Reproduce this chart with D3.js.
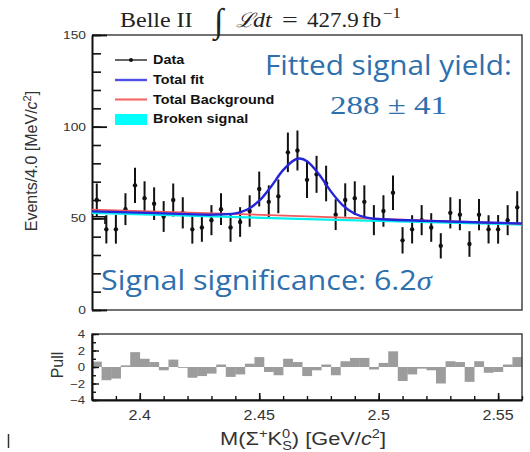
<!DOCTYPE html>
<html><head><meta charset="utf-8">
<script src="https://cdn.jsdelivr.net/npm/d3@7"></script>
<style>body{margin:0;background:#fff} svg{display:block}</style>
</head><body>
<script>
// Binning: 45 bins of 4 MeV/c^2 between 2.38 and 2.56 GeV/c^2
const massMin = 2.38, massMax = 2.56, binWidth = 0.004;

// Events per bin
const counts = [60, 44, 44, 55, 68, 61, 58, 51, 60, 53,
                44, 45, 49, 55, 45, 48, 54, 66, 59, 62,
                86, 87, 71, 74, 69, 52, 60, 61, 59, 49,
                54, 64, 38, 44, 49, 45, 35, 53, 52, 36,
                52, 44, 44, 49, 56];
// Uncertainty on each bin
const countErrors = [9.0, 7.7, 7.8, 8.7, 9.6, 9.2, 8.9, 8.4, 9.0, 8.5,
                     7.8, 7.8, 8.2, 8.7, 7.8, 8.1, 8.6, 9.5, 9.0, 9.2,
                     10.8, 10.9, 9.9, 10.1, 9.7, 8.4, 9.1, 9.2, 9.0, 8.2,
                     8.6, 9.4, 7.2, 7.7, 8.2, 7.8, 6.9, 8.5, 8.5, 7.0,
                     8.5, 7.7, 7.8, 8.2, 8.8];
// Pull of each bin
const pulls = [0.65, -1.6, -1.4, 0.2, 1.8, 1.0, 0.6, -0.4, 0.9, -0.1,
               -1.3, -1.1, -0.8, 0.3, -1.2, -0.9, 0.4, 1.2, -0.6, -1.0,
               1.0, 0.6, -1.1, -0.4, 0.3, -1.0, 0.7, 1.1, 1.1, -0.3,
               0.5, 1.9, -1.7, -0.9, -0.2, -0.4, -2.0, 0.7, 0.6, -1.8,
               0.7, -0.7, -0.6, 0.3, 1.2];

// Fit curves
const fitMass  = [2.38, 2.40, 2.42, 2.43, 2.44, 2.445, 2.45, 2.455, 2.46, 2.465, 2.467,
                  2.47, 2.475, 2.48, 2.485, 2.49, 2.495, 2.50, 2.52, 2.54, 2.56];
const totalFit = [53.8, 53.1, 52.3, 52.0, 52.7, 54.8, 59.6, 67.4, 76.3, 82.0, 82.6,
                  81.1, 74.1, 64.7, 57.1, 52.5, 50.4, 49.6, 48.6, 47.9, 47.2];
const bkgMass = [2.38, 2.47, 2.56];
const totalBackground = [54.8, 51.1, 47.0];
const brokenSignal = [53.0, 49.6, 46.6];

// Axis ticks
const yMajorTicks = [0, 50, 100, 150];
const yMinorTicks = d3.range(0, 151, 10);
const pullMajorTicks = [-4, -2, 0, 2, 4];
const pullMinorTicks = [-4, -3, -2, -1, 0, 1, 2, 3, 4];
const xMajorTicks = [2.4, 2.45, 2.5, 2.55];
const xMinorTicks = d3.range(2.38, 2.5601, 0.01);

const W = 530, H = 452;
const svg = d3.select("body").append("svg").attr("width", W).attr("height", H)
  .style("font-family", "'Liberation Sans', Arial, sans-serif");
svg.append("rect").attr("width", W).attr("height", H).attr("fill", "#fff");

const x = d3.scaleLinear().domain([massMin, massMax]).range([92, 522]);
const y = d3.scaleLinear().domain([0, 150]).range([310, 35]);
const yp = d3.scaleLinear().domain([-4, 4]).range([400, 334]);

const centers = counts.map((_, i) => massMin + binWidth * (i + 0.5));

// text helper: optional horizontal stretch or fit to a given width
function label(parent, str, px, py, o = {}) {
  const g = parent.append("g");
  const t = g.append("text")
    .attr("font-size", o.size || 12)
    .attr("text-anchor", o.anchor || "start")
    .attr("fill", o.color || "#222");
  if (o.family) t.attr("font-family", o.family);
  if (o.weight) t.attr("font-weight", o.weight);
  if (o.style) t.attr("font-style", o.style);
  if (typeof str === "function") str(t); else t.text(str);
  let sx = o.sx || 1;
  if (o.width) sx = o.width / t.node().getComputedTextLength();
  g.attr("transform", `translate(${px},${py}) ${o.rotate ? "rotate(" + o.rotate + ")" : ""} scale(${sx},1)`);
  return t;
}

// ---------- main panel ----------
const main = svg.append("g");

// frame (top, right, bottom)
main.append("path")
  .attr("d", `M${x(massMin)},${y(150)}H${x(massMax)}V${y(0)}H${x(massMin)}`)
  .attr("fill", "none").attr("stroke", "#444").attr("stroke-width", 1.5);

// left axis: minor and major ticks pointing inward
main.append("g").attr("transform", `translate(${x(massMin)},0)`)
  .call(d3.axisLeft(y).tickValues(yMinorTicks).tickSize(-9).tickSizeOuter(0).tickFormat(""))
  .call(g => g.select(".domain").attr("stroke", "#111").attr("stroke-width", 2))
  .call(g => g.selectAll(".tick line").attr("stroke", "#111").attr("stroke-width", 1.6));
const yAx = main.append("g").attr("transform", `translate(${x(massMin)},0)`)
  .call(d3.axisLeft(y).tickValues(yMajorTicks).tickSize(-15).tickSizeOuter(0).tickPadding(6));
yAx.select(".domain").remove();
yAx.selectAll(".tick line").attr("stroke", "#111").attr("stroke-width", 1.8);
yAx.selectAll(".tick text").remove();
yMajorTicks.forEach(v => label(main, String(v), 86, y(v) + 4,
  { size: 11.5, anchor: "end", sx: 1.2, color: "#333" }));

// y title
label(svg, t => {
  t.append("tspan").text("Events/4.0 [MeV/");
  t.append("tspan").attr("font-style", "italic").text("c");
  t.append("tspan").attr("font-size", 11).attr("dy", -6).text("2");
  t.append("tspan").attr("dy", 6).text("]");
}, 37, 161, { size: 16, anchor: "middle", rotate: -90, color: "#333" });

// short stray segment near the first bins
main.append("path").attr("d", "M92,216.7H105V224")
  .attr("fill", "none").attr("stroke", "#111").attr("stroke-width", 1.6);

// data: error bars and markers
const dataG = main.append("g");
dataG.selectAll("line.err").data(counts).join("line")
  .attr("x1", (d, i) => x(centers[i])).attr("x2", (d, i) => x(centers[i]))
  .attr("y1", (d, i) => y(d - countErrors[i])).attr("y2", (d, i) => y(d + countErrors[i]))
  .attr("stroke", "#111").attr("stroke-width", 2);
dataG.selectAll("circle").data(counts).join("circle")
  .attr("cx", (d, i) => x(centers[i])).attr("cy", d => y(d))
  .attr("r", 2.2).attr("fill", "#111");

// fit components
const lineGen = d3.line().x(d => x(d[0])).y(d => y(d[1]));
const curveGen = d3.line().x(d => x(d[0])).y(d => y(d[1])).curve(d3.curveCatmullRom.alpha(0.5));
main.append("path").datum(d3.zip(bkgMass, brokenSignal)).attr("d", lineGen)
  .attr("fill", "none").attr("stroke", "#00f0f0").attr("stroke-width", 2.2);
main.append("path").datum(d3.zip(bkgMass, totalBackground)).attr("d", lineGen)
  .attr("fill", "none").attr("stroke", "#f05a5a").attr("stroke-width", 1.8);
main.append("path").datum(d3.zip(fitMass, totalFit)).attr("d", curveGen)
  .attr("fill", "none").attr("stroke", "#2424d8").attr("stroke-width", 2.4);

// legend
const lg = main.append("g");
const legendRows = [
  { name: "Data", yc: 60 },
  { name: "Total fit", yc: 80 },
  { name: "Total Background", yc: 99.5 },
  { name: "Broken signal", yc: 119 }
];
lg.append("line").attr("x1", 115).attr("x2", 147).attr("y1", 60).attr("y2", 60)
  .attr("stroke", "#111").attr("stroke-width", 1.3);
lg.append("circle").attr("cx", 131).attr("cy", 60).attr("r", 2).attr("fill", "#111");
lg.append("line").attr("x1", 115).attr("x2", 147).attr("y1", 80).attr("y2", 80)
  .attr("stroke", "#5050e8").attr("stroke-width", 2.4);
lg.append("line").attr("x1", 115).attr("x2", 147).attr("y1", 99.5).attr("y2", 99.5)
  .attr("stroke", "#f36a6a").attr("stroke-width", 2.2);
lg.append("rect").attr("x", 115).attr("y", 114).attr("width", 32).attr("height", 11)
  .attr("fill", "#00ffff");
legendRows.forEach(r => label(lg, r.name, 153, r.yc + 4.3,
  { size: 12, weight: "bold", sx: 1.2, color: "#111" }));

// ---------- pull panel ----------
const pull = svg.append("g");
pull.selectAll("rect").data(pulls).join("rect")
  .attr("x", (d, i) => x(massMin + binWidth * i))
  .attr("width", (d, i) => x(massMin + binWidth * (i + 1)) - x(massMin + binWidth * i) + 0.3)
  .attr("y", d => Math.min(yp(d), yp(0)))
  .attr("height", d => Math.abs(yp(d) - yp(0)))
  .attr("fill", "#9c9c9c");
pull.append("rect").attr("x", x(massMin)).attr("y", yp(4))
  .attr("width", x(massMax) - x(massMin)).attr("height", yp(-4) - yp(4))
  .attr("fill", "none").attr("stroke", "#444").attr("stroke-width", 1.5);

pull.append("g").attr("transform", `translate(${x(massMin)},0)`)
  .call(d3.axisLeft(yp).tickValues(pullMinorTicks).tickSize(-4).tickSizeOuter(0).tickFormat(""))
  .call(g => g.select(".domain").attr("stroke", "#111").attr("stroke-width", 2))
  .call(g => g.selectAll(".tick line").attr("stroke", "#111").attr("stroke-width", 1.4));
pull.append("g").attr("transform", `translate(${x(massMin)},0)`)
  .call(d3.axisLeft(yp).tickValues(pullMajorTicks).tickSize(-7).tickSizeOuter(0).tickFormat(""))
  .call(g => g.select(".domain").remove())
  .call(g => g.selectAll(".tick line").attr("stroke", "#111").attr("stroke-width", 1.4));
pullMajorTicks.forEach(v => label(pull, v < 0 ? "\u2212" + Math.abs(v) : String(v), 85, yp(v) + 4,
  { size: 11, anchor: "end", sx: 1.2, color: "#333" }));

pull.append("g").attr("transform", `translate(0,${yp(-4)})`)
  .call(d3.axisBottom(x).tickValues(xMinorTicks).tickSize(-4).tickSizeOuter(0).tickFormat(""))
  .call(g => g.select(".domain").attr("stroke", "#111").attr("stroke-width", 2))
  .call(g => g.selectAll(".tick line").attr("stroke", "#111").attr("stroke-width", 1.4));
pull.append("g").attr("transform", `translate(0,${yp(-4)})`)
  .call(d3.axisBottom(x).tickValues(xMajorTicks).tickSize(-7).tickSizeOuter(0).tickFormat(""))
  .call(g => g.select(".domain").remove())
  .call(g => g.selectAll(".tick line").attr("stroke", "#111").attr("stroke-width", 1.6));
xMajorTicks.forEach(v => label(pull, String(v), x(v), 420,
  { size: 14, anchor: "middle", sx: 1.15, color: "#333" }));

label(svg, "Pull", 63, 365, { size: 16, anchor: "middle", rotate: -90, color: "#333" });

// x title
label(svg, t => {
  t.append("tspan").text("M(\u03A3");
  t.append("tspan").attr("font-size", 12).attr("dy", -7).text("+");
  t.append("tspan").attr("dy", 7).text("K");
  t.append("tspan").attr("font-size", 12).attr("dy", -7).text("0");
  t.append("tspan").attr("font-size", 12).attr("dx", -6.5).attr("dy", 12).text("S");
  t.append("tspan").attr("dy", -5).text(") [GeV/");
  t.append("tspan").attr("font-style", "italic").text("c");
  t.append("tspan").attr("font-size", 12).attr("dy", -7).text("2");
  t.append("tspan").attr("dy", 7).text("]");
}, 303, 445, { size: 18, anchor: "middle", width: 174, color: "#333" });

// ---------- header ----------
const serif = "'Liberation Serif', 'DejaVu Serif', serif";
const hy = 26.5;
label(svg, "Belle II", 120, hy, { size: 20, family: serif, sx: 1.2, color: "#222" });
label(svg, "\u222B", 214, hy + 5, { size: 34, family: serif, style: "italic", color: "#222" });
label(svg, "\u2112", 236, hy, { size: 20, family: serif, style: "italic", sx: 1.1, color: "#222" });
label(svg, "dt", 253, hy, { size: 20, family: serif, style: "italic", sx: 1.2, color: "#222" });
label(svg, "=", 282, hy, { size: 20, family: serif, sx: 1.4, color: "#222" });
label(svg, "427.9", 307, hy, { size: 20, family: serif, sx: 1.15, color: "#222" });
label(svg, "fb", 362, hy, { size: 20, family: serif, sx: 1.15, color: "#222" });
label(svg, "\u22121", 383, hy - 9, { size: 14, family: serif, sx: 1.2, color: "#222" });

// ---------- fit result annotations ----------
const blue = "#2e6fae";
label(svg, "Fitted signal yield:", 265, 75, { size: 27, family: "'Open Sans', sans-serif", width: 247, color: blue });
label(svg, "288 \u00B1 41", 330, 114, { size: 26, family: serif, width: 117, color: blue });
label(svg, t => {
  t.append("tspan").text("Signal significance: 6.2");
  t.append("tspan").attr("font-family", serif).attr("font-style", "italic").text("\u03C3");
}, 101, 290, { size: 27, family: "'Open Sans', sans-serif", width: 331, color: blue });

// small mark at lower left
svg.append("line").attr("x1", 8.5).attr("x2", 8.5).attr("y1", 434).attr("y2", 448)
  .attr("stroke", "#333").attr("stroke-width", 1.5);
</script>
</body></html>
